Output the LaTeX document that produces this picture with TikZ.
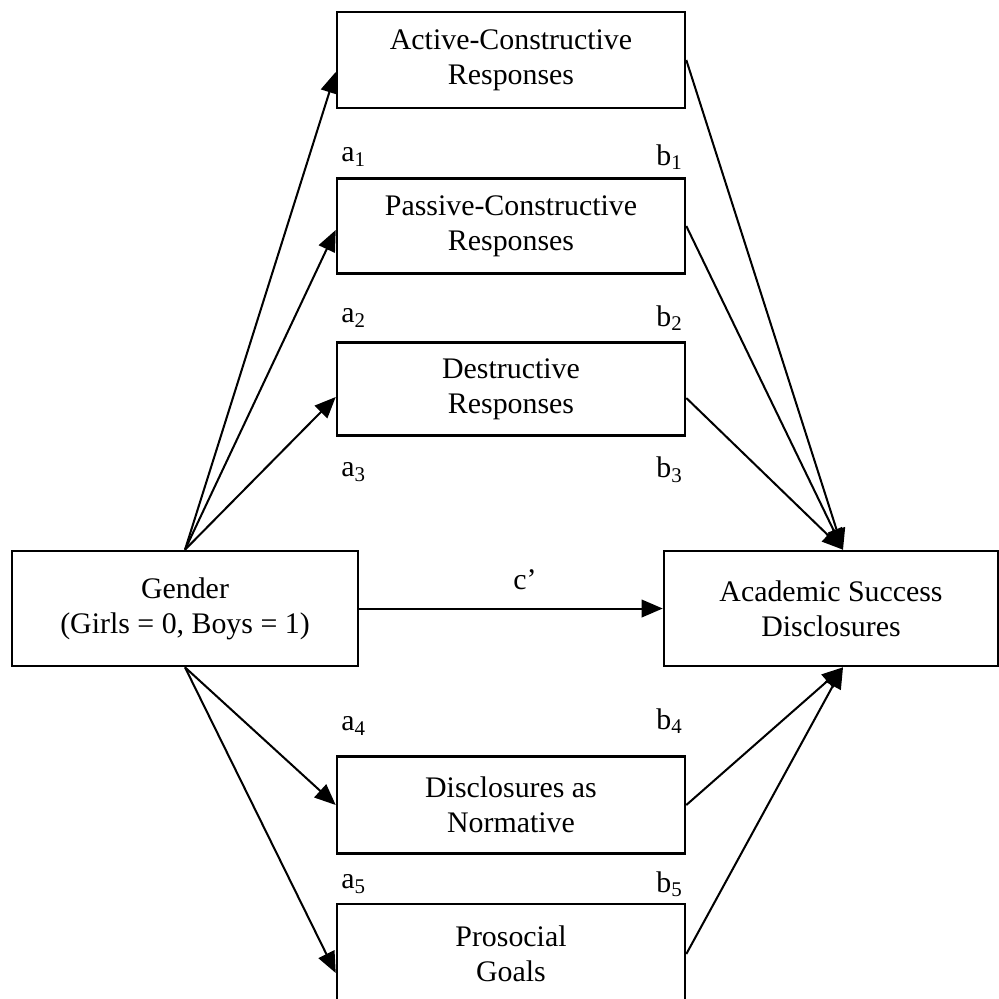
\documentclass[tikz,border=0pt]{standalone}
\usepackage{fontspec}
\setmainfont{Liberation Serif}
\usetikzlibrary{shapes,arrows.meta}
\pgfdeclarelayer{bg}
\pgfsetlayers{bg,main}
\tikzset{
  box/.style={shape=rectangle,draw,line width=1.5pt,fill=white,inner sep=1pt,align=center,font=\fontsize{17}{20}\selectfont},
  conn/.style={line width=1.15pt,-{Triangle[length=12pt,width=10pt]}},
  coef/.style={inner sep=0pt,font=\fontsize{17}{20}\selectfont}
}

\begin{document}
\begin{tikzpicture}[x=0.02cm,y=-0.02cm]
\useasboundingbox (0,0) rectangle (999,998);

% Draw the nodes...
\node (act) at (  511.0,   60.0) [box,minimum width=6.96cm,minimum height=1.92cm] {Active-Constructive\\Responses};
\node (pas) at (  511.0,  226.0) [box,minimum width=6.96cm,minimum height=1.90cm] {Passive-Constructive\\Responses};
\node (des) at (  511.0,  389.0) [box,minimum width=6.96cm,minimum height=1.86cm] {Destructive\\Responses};
\node (gen) at (  185.0,  608.5) [box,minimum width=6.92cm,minimum height=2.30cm] {Gender\\(Girls = 0, Boys = 1)};
\node (acs) at (  831.0,  608.5) [box,minimum width=6.68cm,minimum height=2.30cm] {Academic Success\\Disclosures};
\node (nor) at (  511.0,  805.0) [box,minimum width=6.96cm,minimum height=1.94cm] {Disclosures as\\Normative};
\node (pro) at (  511.0,  954.0) [box,minimum width=6.96cm,minimum height=2.00cm] {Prosocial\\Goals};

\coordinate (top) at ([xshift=0.24cm]acs.north);
\coordinate (bot) at ([xshift=0.24cm]acs.south);

% Put the coefficients...
\node (a1) at (341,157) [coef,anchor=west] {a\textsubscript{1}};
\node (b1) at (683,157) [coef,anchor=east] {b\textsubscript{1}};
\node (a2) at (341,318) [coef,anchor=west] {a\textsubscript{2}};
\node (b2) at (683,318) [coef,anchor=east] {b\textsubscript{2}};
\node (a3) at (341,472) [coef,anchor=west] {a\textsubscript{3}};
\node (b3) at (683,470) [coef,anchor=east] {b\textsubscript{3}};
\node (a4) at (341,726) [coef,anchor=west] {a\textsubscript{4}};
\node (b4) at (683,721) [coef,anchor=east] {b\textsubscript{4}};
\node (a5) at (341,884) [coef,anchor=west] {a\textsubscript{5}};
\node (b5) at (683,884) [coef,anchor=east] {b\textsubscript{5}};
\node (c) at (525,580) [coef] {c’};

% Draw the edges...
\begin{pgfonlayer}{bg}
\draw[conn] (gen.north) -- ([yshift=-0.24cm]act.west);
\draw[conn] (gen.north) -- ([yshift=-0.08cm]pas.west);
\draw[conn] (gen.north) -- ([yshift=-0.16cm]des.west);
\draw[conn] (gen.south) -- (nor.west);
\draw[conn] (gen.south) -- ([yshift=-0.38cm]pro.west);
\draw[conn] (gen.east) -- (acs.west);
\draw[conn] (act.east) -- (top);
\draw[conn] (pas.east) -- (top);
\draw[conn] ([yshift=-0.18cm]des.east) -- (top);
\draw[conn] (nor.east) -- (bot);
\draw[conn] (pro.east) -- (bot);
\end{pgfonlayer}

\end{tikzpicture}
\end{document}
